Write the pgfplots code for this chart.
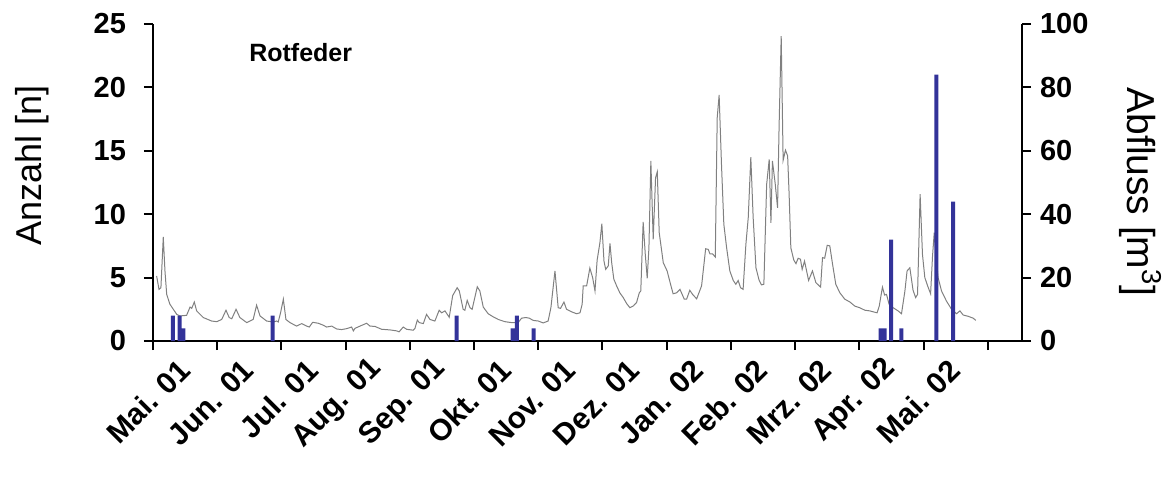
\documentclass[border=0pt]{standalone}
\usepackage{pgfplots}
\pgfplotsset{compat=1.18}
\usepackage{fontspec}
\setmainfont{Liberation Sans}
\definecolor{barblue}{HTML}{333399}
\definecolor{flowgray}{HTML}{808080}
\begin{document}
\begin{tikzpicture}
\path[use as bounding box] (-76.5pt,-67.75pt) rectangle (504.5pt,170.5pt);
\pgfplotsset{
  base/.style={
    scale only axis, width=434.5pt, height=158.5pt,
    xmin=0, xmax=406,
    axis line style={line width=1pt, black},
    tick style={line width=1pt, black},
    tick align=outside,
    major tick length=4.5pt,
    /pgf/number format/assume math mode=true,
    tick label style={font=\fontsize{14.5}{17}\selectfont\bfseries},
    clip=false,
  }
}
\begin{axis}[base,
  axis y line*=right, axis x line=none,
  ymin=0, ymax=100, ytick={0,20,...,100},
  yticklabel style={anchor=west, xshift=1pt},
  ylabel={Abfluss [m\textsuperscript{3}]},
  every axis y label/.style={at={(rel axis cs:1.136,0.47)}, rotate=-90, anchor=center, font=\fontsize{19.5}{22}\selectfont},
]
\addplot[flowgray, line width=0.5pt] table {
1.7 20.5
2.8 16.3
3.7 16.8
4.8 32.8
5.6 22
6.4 14.7
7.9 11.6
9.5 10
11.1 8.4
12.6 7.9
15.7 8.1
17.3 10.7
18.1 10.3
19.3 12.3
20.4 9.5
23.5 7.4
27.4 6.3
29.8 6.1
32.1 6.8
34.1 9.7
35.6 7.4
36.8 7
38.8 10
40.6 7.4
43.8 5.8
46.8 6.8
48.4 11.3
50 7.9
53.1 6.3
56.2 6
57.8 6.3
58.5 6
59.6 8.9
60.9 13.2
62.1 6.8
64 5.8
67.1 4.7
69.5 5.5
71.8 4.7
73 4.4
74.6 5.9
77.2 5.6
79.5 5
81.1 4.4
83.5 4.7
85.8 3.8
88.1 3.6
90.5 3.9
92.8 4.4
93.6 3.2
94.4 4
96.7 4.7
99.8 5.6
101.4 4.7
103.7 4.6
106.8 3.7
110.7 3.5
113.8 3.2
115 2.9
116.9 4.4
118.5 3.7
121.6 3.4
122.4 4
123.5 6.6
124.4 5.8
126.3 5.5
127.8 8.4
129.4 6.8
131.7 6.3
133.7 9.7
134.9 8.9
136.4 9.5
138.4 7.5
140 14.3
142.1 16.8
143.1 15.8
144.9 10
145.7 9.7
146.8 12.8
148.1 10.5
149.1 10
151.5 17.1
152.7 15.8
154.3 10.7
156.6 8.6
159 7.6
161.3 6.8
164.4 6.1
167.5 5.8
170.6 5.8
172.2 7.2
174.2 7.4
175.8 7.2
177.6 6.5
180 6.3
182.3 5.7
184.6 6.3
185.9 10.5
187.8 22.1
189.3 10.5
190.4 10.3
192 12.3
193.2 10
195.6 9.2
197.9 8.6
199.5 8.9
200.5 11.6
201 17.4
202.6 17.4
204.1 23
205.4 20
206.5 15.8
207.5 25.5
208.8 31
209.7 37
210.7 25.2
211.5 22.6
212.7 23.7
213.5 30.8
214.3 24.7
215.3 19.5
216.6 17.4
218.1 15.2
219.7 13.7
221.3 11.8
222.8 10.5
224.3 11
225.9 12.1
227.2 15.2
227.9 15.8
229 37.6
230 27.3
230.9 19.8
231.7 29.4
232.6 56.8
233.7 32.1
234.8 51.5
235.6 53.4
236.5 34.2
238.4 24.7
240.2 22.1
241.8 17.9
243 14.9
244.6 15.2
246.2 16.3
248.2 13.2
249.3 13.2
250.8 16
252.1 14.7
254 13.3
256.3 17.4
258.2 29.1
259.4 28.9
260.2 27.5
261.4 27.5
262.7 26.5
263.6 70.4
264.5 77.6
265.6 55.7
266.7 36.8
268 29.4
269.5 22.1
271.1 19.1
272.3 17.9
273.4 19.1
274.5 16.8
275.7 16.3
277 30.5
278.1 38.9
279.3 58
280.4 38.9
281.7 23.1
283.2 19.1
284.3 17.7
285.4 17.9
286.7 49.4
287.9 57.3
288.7 37.3
289.4 56.8
290.7 49.6
291.8 42
292.5 67.3
293.5 96.2
294.4 57
295.5 60.2
296.5 58.4
297.2 46.3
298 29.4
299.4 25.5
300.4 24.4
301.4 26.1
302.5 25.8
303.3 22.6
304.4 25.2
306.3 19.1
308.1 22.1
309.7 18.4
311.9 17
312.8 26.3
313.8 26.1
315 30.2
316.2 30
317.5 24.2
319 17.9
320.9 15.2
323.2 13.2
325.6 12.3
327.9 11
330.2 10.5
332.6 9.7
334.9 9.5
336.5 9.2
338.3 8.9
339.3 11
340.8 17
341.8 14.5
342.7 14.7
343.9 11.6
345.8 10.5
348.1 9.5
349.7 8.6
351.3 15.8
352.3 22.1
353.6 23.1
355.1 16
356.3 13.7
357.2 14.7
358.4 46.3
359.5 27.3
360.6 20
361.9 17.4
363.3 14.9
364.2 26.8
365 34.2
365.7 28.4
366.8 20
368.4 15.8
370.7 12.6
373.1 10
375.4 8.6
377 9.5
378.5 8.2
380.8 7.8
383.2 7.2
384.4 6.5
};
\end{axis}
\begin{axis}[base,
  axis y line*=left, axis x line*=bottom,
  ymin=0, ymax=25, ytick={0,5,...,25},
  yticklabel style={anchor=east, xshift=-5.5pt},
  xtick={0,30,...,390},
  xticklabels={{},Mai. 01,Jun. 01,Jul. 01,Aug. 01,Sep. 01,Okt. 01,Nov. 01,Dez. 01,Jan. 02,Feb. 02,Mrz. 02,Apr. 02,Mai. 02},
  xticklabel style={rotate=45, anchor=east, xshift=-13.4pt, yshift=6.35pt, font=\fontsize{15}{18}\selectfont\bfseries},
  ylabel={Anzahl [n]},
  every axis y label/.style={at={(rel axis cs:-0.139,0.554)}, rotate=90, anchor=center, font=\fontsize{18}{21}\selectfont},
]
\addplot[ybar, bar width=2pt, fill=barblue, draw=none] coordinates {
(9.3,2) (12.4,2) (14.2,1) (55.9,2) (141.8,2) (168,1) (170,2) (177.8,1)
(339.9,1) (341.8,1) (344.8,8) (349.7,1) (366,21) (373.8,11)
};
\node[font=\fontsize{12.5}{15}\selectfont\bfseries] at (rel axis cs:0.170,0.910) {Rotfeder};
\end{axis}
\end{tikzpicture}
\end{document}
